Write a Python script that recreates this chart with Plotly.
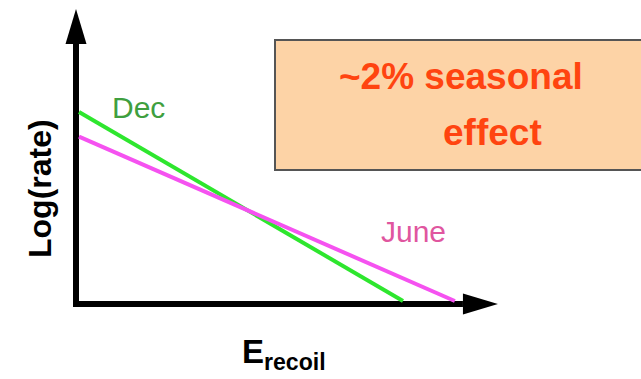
import plotly.graph_objects as go

# Two schematic recoil spectra (log rate vs recoil energy), arbitrary units
months = ["Dec", "June"]
line_colors = ["#2ee62e", "#f552f0"]
label_colors = ["#3f9f3f", "#e0569f"]
energy_start = [0.0, 0.0]
energy_end = [10.0, 11.6]
lograte_start = [10.0, 8.7]
lograte_end = [0.0, 0.0]

# Label positions (data units)
label_energy = [1.85, 10.31]
label_lograte = [10.24, 3.70]

# Axis arrows extents (data units)
energy_axis_tip = 12.93
lograte_axis_tip = 15.45

box_line1 = "~2% seasonal"
box_line2 = "effect"
x_title = "E<sub>recoil</sub>"
y_title = "Log(rate)"

W, H = 641, 379
ORIGIN_PX = (79, 301)
PX_PER_E = 32.4
PX_PER_L = 18.9
HEAD_LEN, HEAD_HALF = 35, 10.5

x_range = [-ORIGIN_PX[0] / PX_PER_E, (W - ORIGIN_PX[0]) / PX_PER_E]
y_range = [(ORIGIN_PX[1] - H) / PX_PER_L, ORIGIN_PX[1] / PX_PER_L]

fig = go.Figure()

for name, c, x0, x1, y0, y1 in zip(months, line_colors, energy_start, energy_end,
                                   lograte_start, lograte_end):
    fig.add_trace(go.Scatter(x=[x0, x1], y=[y0, y1], mode="lines", name=name,
                             line=dict(color=c, width=4), showlegend=False,
                             hoverinfo="skip"))

# Axes drawn as thick black arrows
x_shaft_end = energy_axis_tip - HEAD_LEN / PX_PER_E
y_shaft_end = lograte_axis_tip - HEAD_LEN / PX_PER_L
x_back = -3 / PX_PER_E
y_back = -3 / PX_PER_L
shapes = [
    dict(type="path", xref="x", yref="y",
         path=f"M {x_back},{y_shaft_end} L {x_back},{y_back} L {x_shaft_end},{y_back}",
         line=dict(color="black", width=6), layer="below"),
    dict(type="path", xref="x", yref="y", xsizemode="pixel", ysizemode="pixel",
         xanchor=energy_axis_tip, yanchor=y_back,
         path=f"M 0,0 L {-HEAD_LEN},{HEAD_HALF} L {-HEAD_LEN},{-HEAD_HALF} Z",
         fillcolor="black", line=dict(width=0)),
    dict(type="path", xref="x", yref="y", xsizemode="pixel", ysizemode="pixel",
         xanchor=x_back, yanchor=lograte_axis_tip,
         path=f"M 0,0 L {-HEAD_HALF},{-HEAD_LEN} L {HEAD_HALF},{-HEAD_LEN} Z",
         fillcolor="black", line=dict(width=0)),
    # Callout box
    dict(type="rect", xref="paper", yref="paper",
         x0=275 / W, x1=1.05, y0=1 - 170 / H, y1=1 - 40 / H,
         fillcolor="#fdd3a6", line=dict(color="#555555", width=2)),
]

font_family = "Liberation Sans, Arial, sans-serif"
annotations = []
for name, c, ex, ly in zip(months, label_colors, label_energy, label_lograte):
    annotations.append(dict(x=ex, y=ly, xref="x", yref="y", text=name,
                            showarrow=False, xanchor="center", yanchor="middle",
                            font=dict(family=font_family, size=30, color=c)))

box_font = dict(family=font_family, size=37, color="#ff4410")
annotations += [
    dict(x=461 / W, y=1 - 77 / H, xref="paper", yref="paper",
         text=f"<b>{box_line1}</b>", showarrow=False,
         xanchor="center", yanchor="middle", font=box_font),
    dict(x=492 / W, y=1 - 132 / H, xref="paper", yref="paper",
         text=f"<b>{box_line2}</b>", showarrow=False,
         xanchor="center", yanchor="middle", font=box_font),
    dict(x=40 / W, y=1 - 189 / H, xref="paper", yref="paper",
         text=f"<b>{y_title}</b>", showarrow=False, textangle=-90,
         xanchor="center", yanchor="middle",
         font=dict(family=font_family, size=32, color="black")),
    dict(x=284 / W, y=1 - 354 / H, xref="paper", yref="paper",
         text=f"<b>{x_title}</b>", showarrow=False,
         xanchor="center", yanchor="middle",
         font=dict(family=font_family, size=33, color="black")),
]

fig.update_layout(
    width=W, height=H, autosize=False,
    margin=dict(l=0, r=0, t=0, b=0, pad=0),
    paper_bgcolor="white", plot_bgcolor="white",
    xaxis=dict(range=x_range, visible=False, fixedrange=True),
    yaxis=dict(range=y_range, visible=False, fixedrange=True),
    shapes=shapes, annotations=annotations,
    showlegend=False,
)

fig.write_html("out.html", config={"displayModeBar": False})
